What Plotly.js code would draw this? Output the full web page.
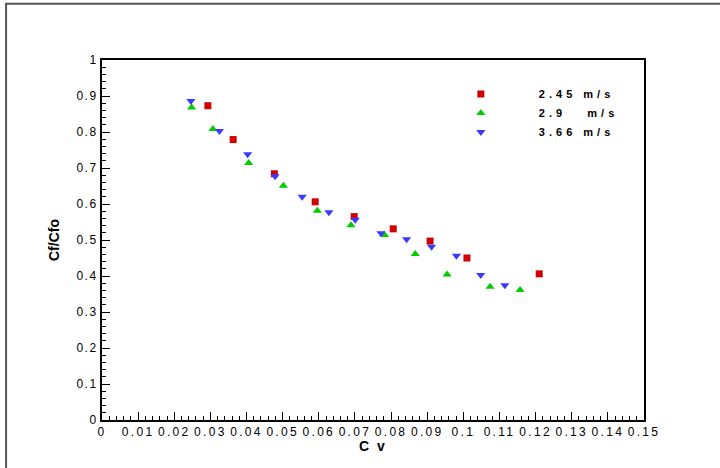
<!DOCTYPE html>
<html>
<head>
<meta charset="utf-8">
<script src="https://cdn.plot.ly/plotly-3.0.1.min.js"></script>
<style>
  html, body { margin: 0; padding: 0; background: #fff; }
  #chart { width: 720px; height: 468px; }
  .legendtext { letter-spacing: 4px; }
  .xtick text { letter-spacing: 2.3px; }
  .ytick text { letter-spacing: 1.5px; }
  .annotation-text { letter-spacing: 2px; }
</style>
</head>
<body>
<div id="chart"></div>
<script>
// Series names
const seriesNames = ["2.45\u00a0m/s", "2.9\u00a0\u00a0\u00a0m/s", "3.66\u00a0m/s"];

// 2.45 m/s (red squares)
const cv245 = [0.0293, 0.0363, 0.0477, 0.0590, 0.0698, 0.0806, 0.0908, 0.1010, 0.1210];
const cf245 = [0.873, 0.779, 0.684, 0.606, 0.565, 0.531, 0.497, 0.450, 0.406];

// 2.9 m/s (green triangles up)
const cv29 = [0.0248, 0.0307, 0.0406, 0.0502, 0.0596, 0.0689, 0.0782, 0.0867, 0.0955, 0.1074, 0.1157];
const cf29 = [0.868, 0.808, 0.714, 0.651, 0.581, 0.541, 0.514, 0.461, 0.404, 0.370, 0.361];

// 3.66 m/s (blue triangles down)
const cv366 = [0.0246, 0.0325, 0.0403, 0.0479, 0.0554, 0.0628, 0.0701, 0.0772, 0.0843, 0.0912, 0.0981, 0.1048, 0.1115];
const cf366 = [0.886, 0.803, 0.738, 0.677, 0.620, 0.577, 0.556, 0.519, 0.502, 0.481, 0.456, 0.403, 0.374];

const xTitle = "C v";
const yTitle = "Cf/Cfo";

const FONT = '"Liberation Sans", Arial, sans-serif';

const traces = [
  { x: cv245, y: cf245, name: seriesNames[0], type: 'scatter', mode: 'markers',
    marker: { symbol: 'square', size: 7, color: '#d00000' } },
  { x: cv29, y: cf29, name: seriesNames[1], type: 'scatter', mode: 'markers',
    marker: { symbol: 'triangle-up', size: 8, color: '#00cc00' } },
  { x: cv366, y: cf366, name: seriesNames[2], type: 'scatter', mode: 'markers',
    marker: { symbol: 'triangle-down', size: 8, color: '#3a3aff' } }
];

const axisCommon = {
  showgrid: false, zeroline: false,
  showline: true, linecolor: '#000', linewidth: 2, mirror: true,
  ticks: 'inside', ticklen: 8, tickwidth: 1, tickcolor: '#000',
  tickfont: { family: FONT, size: 12, color: '#000' },
  fixedrange: true
};

const layout = {
  width: 720, height: 468,
  margin: { l: 102, r: 76, t: 60, b: 48 },
  paper_bgcolor: '#fff', plot_bgcolor: '#fff',
  font: { family: FONT, color: '#000' },
  showlegend: true,
  legend: {
    x: 0.592, y: 0.946, xanchor: 'left', yanchor: 'top',
    bgcolor: 'rgba(0,0,0,0)', borderwidth: 0,
    itemwidth: 106, tracegroupgap: 0,
    font: { family: FONT, size: 11, weight: 'bold', color: '#000' }
  },
  xaxis: Object.assign({}, axisCommon, {
    range: [0, 0.15], dtick: 0.01, tick0: 0,
    minor: { dtick: 0.002, ticks: 'inside', ticklen: 4, tickcolor: '#000', tickwidth: 1, showgrid: false }
  }),
  yaxis: Object.assign({}, axisCommon, {
    range: [0, 1], dtick: 0.1, tick0: 0,
    minor: { dtick: 0.02, ticks: 'inside', ticklen: 4, tickcolor: '#000', tickwidth: 1, showgrid: false },
    title: { text: yTitle, font: { family: FONT, size: 14, weight: 'bold', color: '#000' }, standoff: 14 }
  }),
  annotations: [
    { text: xTitle, xref: 'paper', yref: 'paper', x: 0.5, y: 0, xanchor: 'center', yanchor: 'middle',
      yshift: -26, showarrow: false, font: { family: FONT, size: 14, weight: 'bold', color: '#000' } }
  ],
  shapes: [
    { type: 'rect', xref: 'paper', yref: 'paper',
      x0: -0.177, x1: 1.5, y0: -0.5, y1: 1.156,
      line: { color: '#555', width: 2 }, fillcolor: 'rgba(0,0,0,0)', layer: 'below' }
  ]
};

Plotly.newPlot('chart', traces, layout, { displayModeBar: false, staticPlot: true });
</script>
</body>
</html>
